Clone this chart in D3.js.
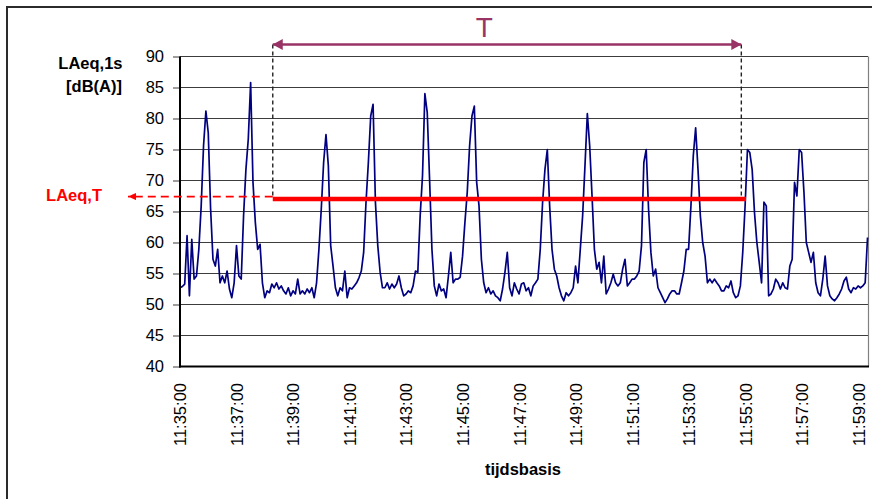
<!DOCTYPE html>
<html>
<head>
<meta charset="utf-8">
<script src="https://cdnjs.cloudflare.com/ajax/libs/d3/7.8.5/d3.min.js"></script>
<style>
  body { margin: 0; background: #fff; }
  text { font-family: Arial, "Liberation Sans", sans-serif; }
</style>
</head>
<body>
<svg id="chart" width="872" height="499"></svg>
<script>
// LAeq,1s sound level, every 5 s from 11:35:00
var startTime = "11:35:00";
var stepSeconds = 5;
var levels = [
  52.7, 52.9, 53.3, 61.1, 51.4, 60.5, 54.1, 54.6, 58.9, 65.9, 75.6, 81.2,
  77.7, 65.4, 57.3, 56.2, 58.9, 53.5, 54.6, 53.5, 55.4, 52.5, 51.1, 53.5,
  59.5, 54.6, 54.1, 64.3, 71.8, 76.7, 85.8, 69.7, 63.2, 58.9, 59.7, 53.5,
  51.1, 52.2, 51.9, 53.3, 52.7, 53.5, 52.5, 53.0, 52.2, 51.7, 52.7, 51.4,
  52.2, 51.7, 54.1, 51.7, 52.2, 51.7, 52.5, 51.9, 52.7, 51.1, 53.5, 58.9,
  65.4, 72.9, 77.4, 72.4, 59.5, 56.2, 52.7, 51.4, 52.7, 52.2, 55.4, 51.1,
  52.7, 52.5, 53.0, 53.5, 54.3, 55.4, 58.4, 66.5, 72.9, 80.4, 82.3, 66.5,
  59.5, 55.2, 52.7, 52.7, 53.5, 52.5, 53.3, 52.7, 53.3, 54.6, 52.7, 51.4,
  51.7, 52.2, 51.9, 53.0, 55.4, 55.2, 64.3, 70.8, 84.0, 81.0, 70.2, 58.9,
  53.0, 51.4, 53.3, 52.2, 52.5, 51.1, 54.6, 58.4, 53.5, 54.1, 54.1, 54.4,
  57.8, 63.2, 68.1, 75.6, 80.4, 82.0, 69.7, 65.9, 57.3, 53.5, 51.9, 52.7,
  51.7, 52.2, 51.4, 51.1, 50.6, 52.5, 55.2, 58.4, 52.7, 51.4, 53.5, 52.5,
  51.7, 53.3, 53.5, 52.2, 52.7, 51.4, 53.0, 53.5, 54.1, 58.9, 66.5, 71.8,
  75.0, 65.9, 58.9, 55.7, 54.6, 52.7, 51.4, 50.6, 51.9, 51.4, 51.9, 52.7,
  56.2, 53.5, 58.9, 64.3, 72.4, 80.8, 75.6, 67.5, 58.9, 55.7, 56.8, 53.5,
  57.8, 51.7, 52.5, 53.5, 54.9, 53.5, 53.0, 53.5, 55.7, 57.3, 53.0, 53.5,
  54.1, 54.1, 54.6, 55.4, 59.5, 72.9, 75.0, 65.4, 58.4, 54.6, 55.7, 52.7,
  51.9, 51.1, 50.3, 50.9, 51.7, 52.2, 52.2, 51.7, 51.7, 53.5, 55.4, 58.9,
  58.9, 65.9, 74.0, 78.5, 71.8, 64.3, 60.0, 57.8, 53.5, 54.1, 53.5, 54.1,
  53.5, 53.0, 52.2, 52.2, 53.0, 52.7, 53.8, 51.9, 51.1, 51.4, 53.0, 58.4,
  65.9, 75.0, 74.5, 71.8, 64.8, 60.0, 56.8, 53.5, 66.5, 65.9, 51.4, 51.7,
  52.5, 54.1, 53.5, 52.5, 53.5, 52.7, 52.5, 56.2, 57.3, 69.7, 67.5, 75.0,
  74.5, 68.1, 60.0, 58.4, 56.8, 58.4, 53.5, 51.9, 51.4, 54.1, 57.8, 53.0,
  51.4, 50.9, 50.6, 51.1, 51.7, 52.5, 53.8, 54.4, 52.5, 51.9, 52.7, 52.5,
  53.0, 52.7, 53.0, 53.5, 60.8
];

var yTicks = [40, 45, 50, 55, 60, 65, 70, 75, 80, 85, 90];
var xTicks = ["11:35:00", "11:37:00", "11:39:00", "11:41:00", "11:43:00", "11:45:00", "11:47:00",
              "11:49:00", "11:51:00", "11:53:00", "11:55:00", "11:57:00", "11:59:00"];
var axisEnd = "11:59:21";

// measuring period T and its equivalent level
var periodStart = "11:38:17";
var periodEnd = "11:54:52";
var laeqLineEnd = "11:55:02";
var tLabelAt = "11:45:46";
var laeqT = 67.0;

var plum = "#993366", navy = "#000080", red = "#ff0000";

function toSec(s) {
  var p = s.split(":").map(Number);
  return p[0] * 3600 + p[1] * 60 + p[2];
}
var t0 = toSec(startTime);

// plot box, hardcoded to fit the picture
var plotLeft = 180, plotRight = 868, plotTop = 56.5, plotBottom = 366.5;

var svg = d3.select("#chart");

// outer chart frame (cut off at the right and bottom)
svg.append("rect")
  .attr("x", 7).attr("y", 7).attr("width", 900).attr("height", 520)
  .attr("fill", "none").attr("stroke", "#2b2b2b").attr("stroke-width", 2);

var x = d3.scaleLinear().domain([0, toSec(axisEnd) - t0]).range([plotLeft, plotRight]);
var y = d3.scaleLinear().domain([40, 90]).range([plotBottom, plotTop]);

// horizontal grid
svg.append("g").selectAll("line")
  .data(yTicks.filter(function(d) { return d > 40; }))
  .enter().append("line")
  .attr("x1", plotLeft).attr("x2", plotRight)
  .attr("y1", function(d) { return y(d); }).attr("y2", function(d) { return y(d); })
  .attr("stroke", "#3c3c3c").attr("stroke-width", 1);

// right border of the plot
svg.append("line")
  .attr("x1", plotRight + 0.5).attr("x2", plotRight + 0.5).attr("y1", plotTop).attr("y2", plotBottom)
  .attr("stroke", "#808080").attr("stroke-width", 1.2);

// y axis
var yAxis = svg.append("g")
  .attr("transform", "translate(" + plotLeft + ",0)")
  .call(d3.axisLeft(y).tickValues(yTicks).tickSize(7).tickPadding(9));
yAxis.select(".domain").remove();
yAxis.selectAll(".tick line").attr("stroke", "#3c3c3c");
yAxis.selectAll("text")
  .attr("font-size", "16.5px").attr("fill", "#000")
  .style("font-family", "Arial, 'Liberation Sans', sans-serif");

// x axis with vertical labels
var xAxis = svg.append("g")
  .attr("transform", "translate(0," + plotBottom + ")")
  .call(d3.axisBottom(x)
    .tickValues(xTicks.map(function(s) { return toSec(s) - t0; }))
    .tickSize(0)
    .tickFormat(function(d, i) { return xTicks[i]; }));
xAxis.select(".domain").remove();
xAxis.selectAll("text")
  .attr("transform", "rotate(-90)")
  .attr("x", -16.5).attr("y", 0).attr("dy", "0.36em")
  .style("text-anchor", "end")
  .attr("font-size", "16.5px").attr("fill", "#000")
  .style("font-family", "Arial, 'Liberation Sans', sans-serif");

// the level series
var line = d3.line()
  .x(function(d, i) { return x(i * stepSeconds); })
  .y(function(d) { return y(d); });

svg.append("path")
  .datum(levels)
  .attr("d", line)
  .attr("fill", "none")
  .attr("stroke", navy)
  .attr("stroke-width", 1.7)
  .attr("stroke-linejoin", "round");

// black axis lines on top
svg.append("line")
  .attr("x1", plotLeft).attr("x2", plotLeft).attr("y1", plotTop).attr("y2", plotBottom + 1)
  .attr("stroke", "#000").attr("stroke-width", 2);
svg.append("line")
  .attr("x1", plotLeft - 1).attr("x2", plotRight + 1).attr("y1", plotBottom).attr("y2", plotBottom)
  .attr("stroke", "#000").attr("stroke-width", 2);

// arrow markers
var defs = svg.append("defs");
defs.append("marker")
  .attr("id", "plumHead").attr("markerUnits", "userSpaceOnUse")
  .attr("viewBox", "0 0 10 11").attr("refX", 10).attr("refY", 5.5)
  .attr("markerWidth", 10).attr("markerHeight", 11).attr("orient", "auto-start-reverse")
  .append("path").attr("d", "M0,0L10,5.5L0,11Z").attr("fill", plum);
defs.append("marker")
  .attr("id", "redHead").attr("markerUnits", "userSpaceOnUse")
  .attr("viewBox", "0 0 8 7").attr("refX", 8).attr("refY", 3.5)
  .attr("markerWidth", 8).attr("markerHeight", 7).attr("orient", "auto")
  .append("path").attr("d", "M0,0L8,3.5L0,7Z").attr("fill", red);

var xs = x(toSec(periodStart) - t0);
var xe = x(toSec(periodEnd) - t0);
var arrowY = y(90) - 12;
var levelY = y(laeqT);

// dashed verticals marking T
svg.append("line")
  .attr("x1", xs).attr("x2", xs).attr("y1", arrowY).attr("y2", levelY - 2.5)
  .attr("stroke", "#222").attr("stroke-width", 1.4).attr("stroke-dasharray", "4,3");
svg.append("line")
  .attr("x1", xe).attr("x2", xe).attr("y1", arrowY).attr("y2", levelY)
  .attr("stroke", "#222").attr("stroke-width", 1.4).attr("stroke-dasharray", "4,3");

// double arrow for T
svg.append("line")
  .attr("x1", xs).attr("x2", xe).attr("y1", arrowY).attr("y2", arrowY)
  .attr("stroke", plum).attr("stroke-width", 2.6)
  .attr("marker-start", "url(#plumHead)").attr("marker-end", "url(#plumHead)");
svg.append("text")
  .attr("x", x(toSec(tLabelAt) - t0)).attr("y", arrowY - 8)
  .attr("text-anchor", "middle")
  .attr("font-size", "28px").attr("fill", plum)
  .text("T");

// LAeq,T level over the period
svg.append("line")
  .attr("x1", xs).attr("x2", x(toSec(laeqLineEnd) - t0))
  .attr("y1", levelY).attr("y2", levelY)
  .attr("stroke", red).attr("stroke-width", 4.5);

// dashed red pointer to the label
svg.append("line")
  .attr("x1", xs).attr("x2", 128).attr("y1", levelY - 2.5).attr("y2", levelY - 2.5)
  .attr("stroke", red).attr("stroke-width", 1.6).attr("stroke-dasharray", "8,5")
  .attr("marker-end", "url(#redHead)");
svg.append("text")
  .attr("x", 102).attr("y", levelY + 1.5)
  .attr("text-anchor", "end")
  .attr("font-size", "16.5px").attr("font-weight", "bold").attr("fill", red)
  .text("LAeq,T");

// axis titles
svg.append("text")
  .attr("x", 122.5).attr("y", 68.5)
  .attr("text-anchor", "end")
  .attr("font-size", "16.5px").attr("font-weight", "bold").attr("fill", "#000")
  .text("LAeq,1s");
svg.append("text")
  .attr("x", 122).attr("y", 91.5)
  .attr("text-anchor", "end")
  .attr("font-size", "16.5px").attr("font-weight", "bold").attr("fill", "#000")
  .text("[dB(A)]");
svg.append("text")
  .attr("x", 523).attr("y", 474.5)
  .attr("text-anchor", "middle")
  .attr("font-size", "16.5px").attr("font-weight", "bold").attr("fill", "#000")
  .text("tijdsbasis");
</script>
</body>
</html>
